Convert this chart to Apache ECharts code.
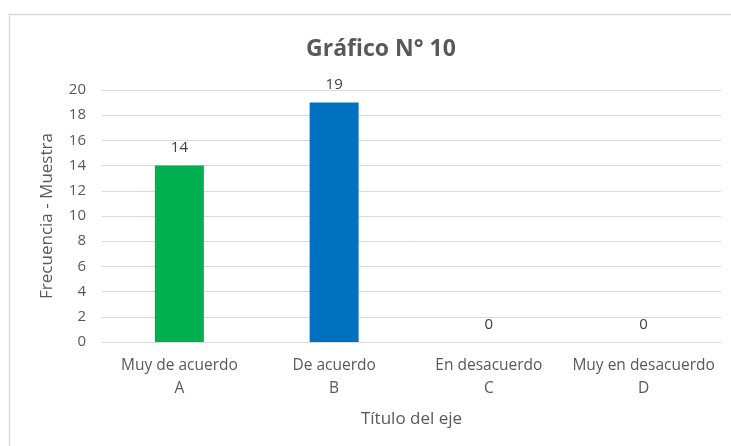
<!DOCTYPE html>
<html>
<head>
<meta charset="utf-8">
<script src="https://cdn.jsdelivr.net/npm/echarts@6/dist/echarts.min.js"></script>
<style>
  html, body { margin: 0; padding: 0; background: #fff; }
  #chart { width: 731px; height: 446px; }
</style>
</head>
<body>
<div id="chart"></div>
<script>
// datos del gráfico
const categories = ['Muy de acuerdo\nA', 'De acuerdo\nB', 'En desacuerdo\nC', 'Muy en desacuerdo\nD'];
const values = [14, 19, 0, 0];
const barColors = ['#00B050', '#0070C0', '#0070C0', '#0070C0'];
const yTicks = { min: 0, max: 20, interval: 2 };

const font = '"Open Sans", sans-serif';
const textColor = '#595959';

const chart = echarts.init(document.getElementById('chart'));
chart.setOption({
  animation: false,
  textStyle: { fontFamily: font },
  graphic: [{
    type: 'rect',
    shape: { x: 9.5, y: 14.5, width: 740, height: 460 },
    style: { fill: 'none', stroke: '#d9d9d9', lineWidth: 1.5 },
    silent: true
  }],
  title: {
    text: 'Gráfico N° 10',
    left: 376,
    textAlign: 'center',
    top: 33,
    textStyle: { fontFamily: font, fontSize: 23, fontWeight: 'bold', color: textColor }
  },
  grid: { left: 102, right: 10, top: 90, bottom: 104 },
  xAxis: {
    type: 'category',
    data: categories,
    name: 'Título del eje',
    nameLocation: 'middle',
    nameGap: 69,
    nameTextStyle: { fontFamily: font, fontSize: 17, color: textColor },
    axisLine: { lineStyle: { color: '#d9d9d9', width: 1 } },
    axisTick: { show: false },
    axisLabel: { interval: 0, color: textColor, fontSize: 15.5, fontFamily: font, lineHeight: 23, margin: 12 }
  },
  yAxis: {
    type: 'value',
    min: yTicks.min,
    max: yTicks.max,
    interval: yTicks.interval,
    name: 'Frecuencia - Muestra',
    nameLocation: 'middle',
    nameGap: 46,
    nameTextStyle: { fontFamily: font, fontSize: 17, color: textColor },
    axisLine: { show: false },
    axisTick: { show: false },
    axisLabel: { color: textColor, fontSize: 15, fontFamily: font, margin: 16 },
    splitLine: { lineStyle: { color: '#d9d9d9', width: 1 } }
  },
  series: [{
    type: 'bar',
    barWidth: 49,
    data: values.map((v, i) => ({ value: v, itemStyle: { color: barColors[i] } })),
    label: {
      show: true,
      position: 'top',
      distance: 10,
      color: '#404040',
      fontSize: 15,
      fontFamily: font
    }
  }]
});
</script>
</body>
</html>
